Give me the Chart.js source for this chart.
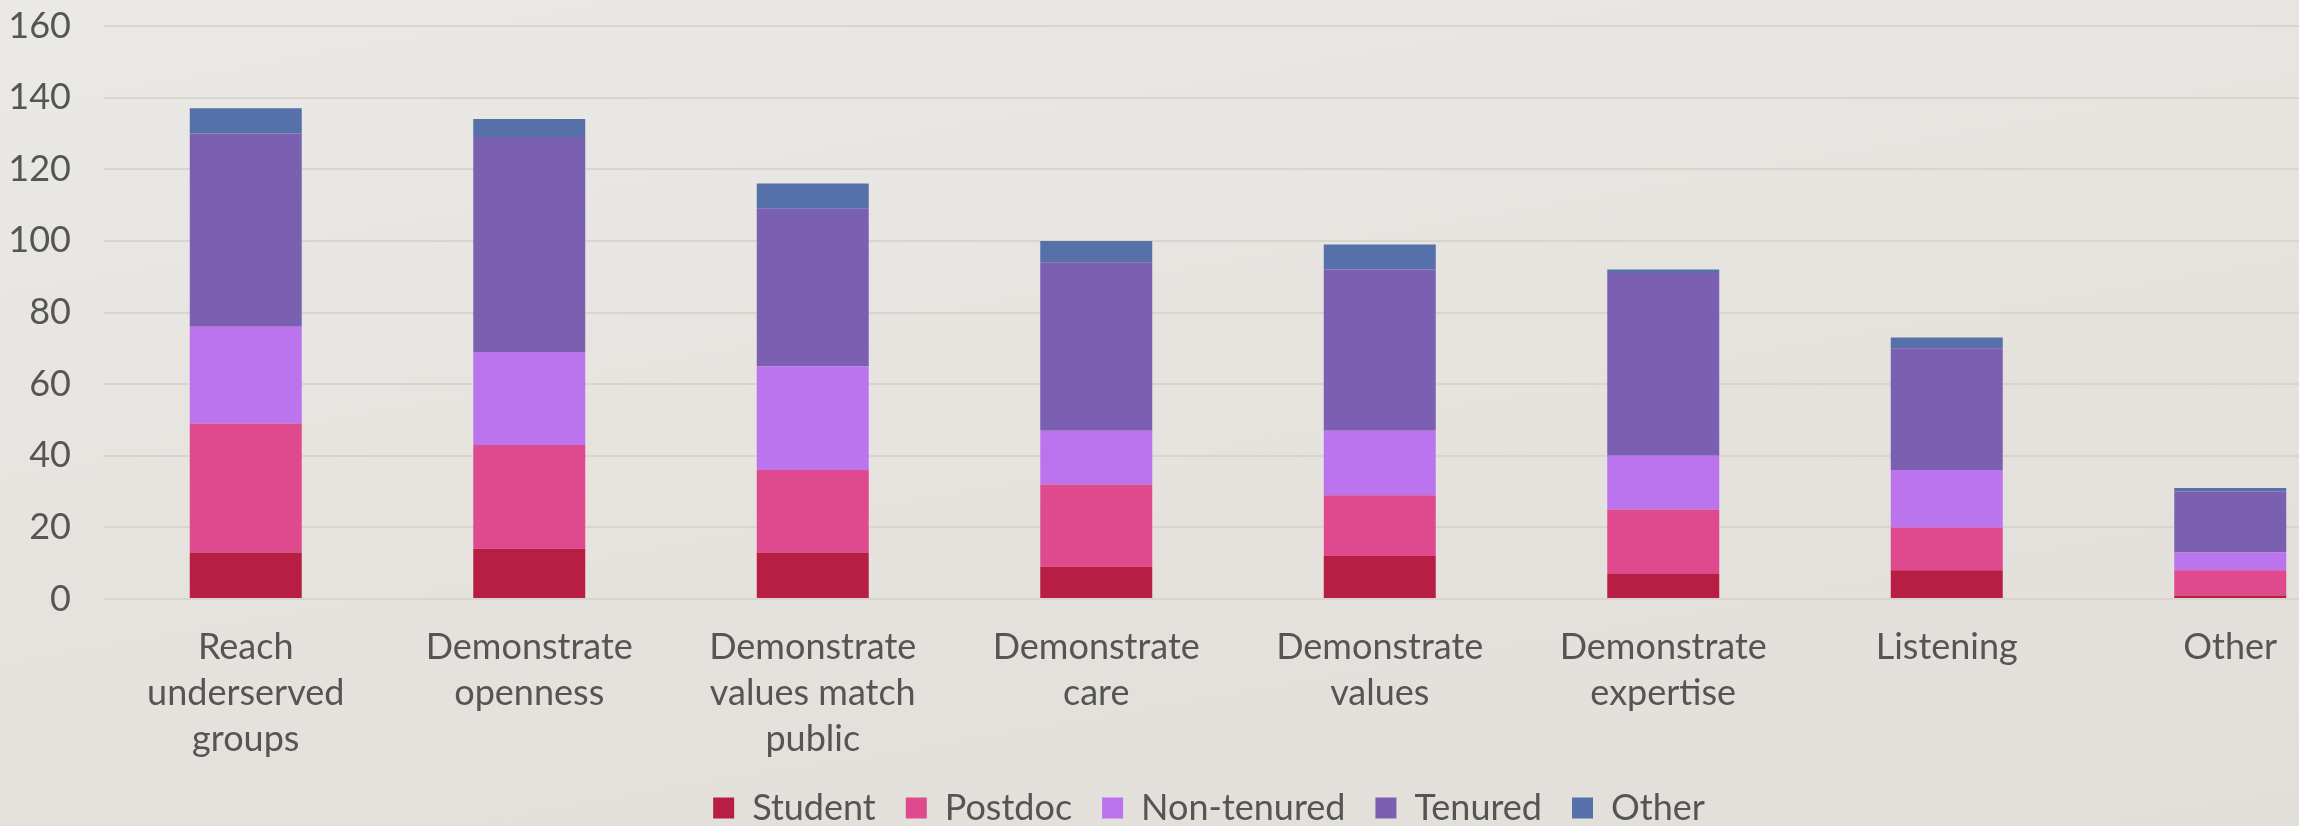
<!DOCTYPE html>
<html>
<head>
<meta charset="utf-8">
<script src="https://cdn.jsdelivr.net/npm/chart.js@4.4.1/dist/chart.umd.min.js"></script>
<style>
  html, body { margin: 0; padding: 0; width: 2299px; height: 826px; overflow: hidden;
    background: linear-gradient(170deg, #ebe9e5 0%, #e5e2de 60%, #e2dfdb 100%); }
  #wrap { position: absolute; left: 0; top: 0; }
</style>
</head>
<body>
<div id="wrap"><canvas id="chart" width="2372" height="826"></canvas></div>
<script>
// categories (multi-line labels as shown under the bars)
var categories = [
  ['Reach', 'underserved', 'groups'],
  ['Demonstrate', 'openness'],
  ['Demonstrate', 'values match', 'public'],
  ['Demonstrate', 'care'],
  ['Demonstrate', 'values'],
  ['Demonstrate', 'expertise'],
  'Listening',
  'Other'
];

// series values
var student    = [13, 14, 13,  9, 12,  7,  8,  1];
var postdoc    = [36, 29, 23, 23, 17, 18, 12,  7];
var nonTenured = [27, 26, 29, 15, 18, 15, 16,  5];
var tenured    = [54, 60, 44, 47, 45, 51, 34, 17];
var other      = [ 7,  5,  7,  6,  7,  1,  3,  1];

var yTicks = { min: 0, max: 160, step: 20 };

var COLORS = {
  student: '#b81d43',
  postdoc: '#de4a8d',
  nonTenured: '#bb73ee',
  tenured: '#7b5fb1',
  other: '#5670a9',
  text: '#555555',
  grid: '#d8d5d1'
};

var FONT = 'Lato, "Open Sans", sans-serif';

function seg(label, data, color) {
  return {
    label: label,
    data: data,
    backgroundColor: color,
    borderWidth: 0,
    categoryPercentage: 1,
    barPercentage: 0.395
  };
}

// the slide's legend sits a little right of the canvas centre
var legendShift = {
  id: 'legendShift',
  afterLayout: function(chart) {
    if (!chart.legend) return;
    chart.legend.left += 21;
    chart.legend.right += 21;
  }
};

var canvas = document.getElementById('chart');

new Chart(canvas, {
  type: 'bar',
  data: {
    labels: categories,
    datasets: [
      seg('Student', student, COLORS.student),
      seg('Postdoc', postdoc, COLORS.postdoc),
      seg('Non-tenured', nonTenured, COLORS.nonTenured),
      seg('Tenured', tenured, COLORS.tenured),
      seg('Other', other, COLORS.other)
    ]
  },
  plugins: [legendShift],
  options: {
    responsive: false,
    animation: false,
    layout: { padding: { left: 4, right: 0, top: 26, bottom: -10 } },
    plugins: {
      tooltip: { enabled: false },
      legend: {
        position: 'bottom',
        labels: {
          color: COLORS.text,
          font: { family: FONT, size: 36 },
          boxWidth: 21,
          boxHeight: 21,
          padding: 30
        }
      }
    },
    scales: {
      x: {
        stacked: true,
        afterFit: function(scale) { scale.height = 161; },
        grid: { display: false, drawTicks: false },
        border: { display: false },
        ticks: {
          color: COLORS.text,
          font: { family: FONT, size: 36, lineHeight: 1.28 },
          padding: 25,
          maxRotation: 0,
          autoSkip: false
        }
      },
      y: {
        stacked: true,
        min: yTicks.min,
        max: yTicks.max,
        afterFit: function(scale) {
          scale.width = 100;
          scale.paddingTop = 0;
          scale.paddingBottom = 0;
        },
        grid: { color: COLORS.grid, lineWidth: 2, drawTicks: false },
        border: { display: false },
        ticks: {
          stepSize: yTicks.step,
          color: COLORS.text,
          font: { family: FONT, size: 36 },
          padding: 33
        }
      }
    }
  }
});
</script>
</body>
</html>
